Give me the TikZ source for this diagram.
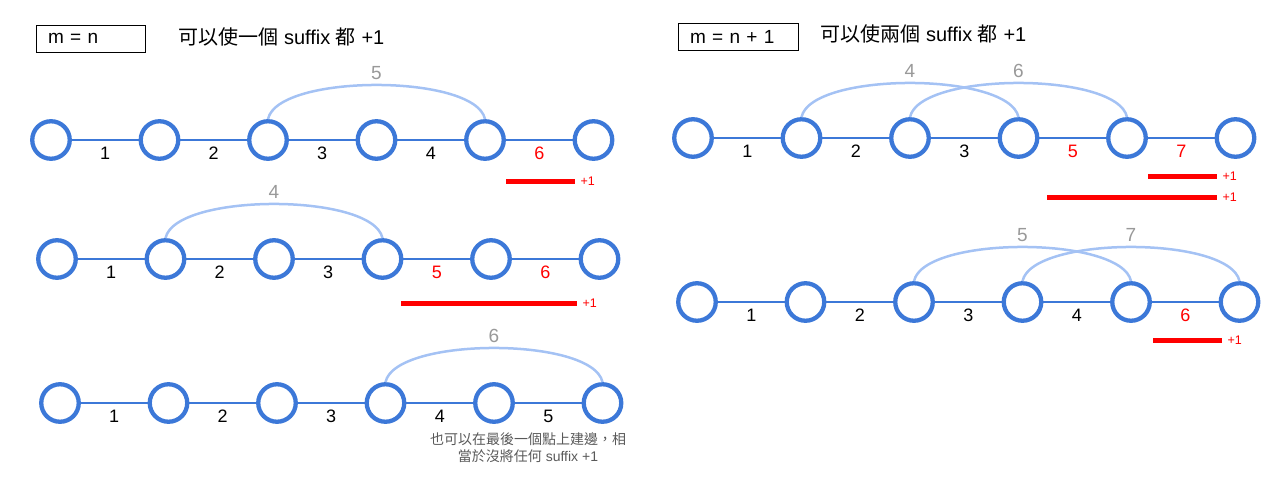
\documentclass[tikz,border=0pt]{standalone}
\usepackage{fontspec}
\setmainfont{Liberation Sans}
\newfontfamily\cjk{Noto Sans CJK TC}
\definecolor{nodeblue}{HTML}{3C78D8}
\definecolor{arcblue}{HTML}{A4C2F4}
\definecolor{labelgray}{HTML}{999999}
\definecolor{notegray}{HTML}{595959}

\begin{document}
\begin{tikzpicture}[x=1pt,y=-1pt,node distance=108.5pt,
  font=\fontsize{18}{21}\selectfont,
  main node/.style={circle,draw=nodeblue,line width=4.3pt,minimum size=37.5pt,inner sep=0pt},
  lbl/.style={below=2pt,text=black},
  hot/.style={below=2pt,text=red},
  arc/.style={arcblue,line width=2.5pt,out=78,in=102,looseness=0.55},
  arclbl/.style={above=1pt,text=labelgray,font=\fontsize{19}{21}\selectfont},
  bar/.style={red,line width=5pt},
  plus/.style={right,inner sep=3pt,text=red,font=\fontsize{12.5}{14}\selectfont},
  titlebox/.style={draw,line width=1pt,minimum height=27pt,inner xsep=12pt,align=left,
    font=\fontsize{19}{21}\selectfont}]
\useasboundingbox (0,0) rectangle (1268,488);

% titles
  \node[titlebox,text width=85pt] (t1) at (90.5,38.5) {m = n};
  \node[anchor=west,font=\fontsize{20}{22}\selectfont] (s1) at (175,37)
    {{\cjk 可以使一個} suffix {\cjk 都} +1};
  \node[titlebox,text width=96pt] (t2) at (738,37) {m = n + 1};
  \node[anchor=west,font=\fontsize{20}{22}\selectfont] (s2) at (817,34)
    {{\cjk 可以使兩個} suffix {\cjk 都} +1};

% first left row
  \node[main node] (a1) at (51,140) {};
  \node[main node] (a2) [right of=a1] {};
  \node[main node] (a3) [right of=a2] {};
  \node[main node] (a4) [right of=a3] {};
  \node[main node] (a5) [right of=a4] {};
  \node[main node] (a6) [right of=a5] {};

  \path[nodeblue,line width=2.7pt]
    (a1) edge node[lbl] {1} (a2)
    (a2) edge node[lbl] {2} (a3)
    (a3) edge node[lbl] {3} (a4)
    (a4) edge node[lbl] {4} (a5)
    (a5) edge node[hot] {6} (a6);
  \draw (a3.north) edge[arc] node[arclbl] {5} (a5.north);

  \coordinate (r1s) at (506,181);
  \coordinate (r1e) at (575,181);
  \draw[bar] (r1s) -- (r1e) node[plus] {+1};

% second left row
  \node[main node] (b1) at (57,259) {};
  \node[main node] (b2) [right of=b1] {};
  \node[main node] (b3) [right of=b2] {};
  \node[main node] (b4) [right of=b3] {};
  \node[main node] (b5) [right of=b4] {};
  \node[main node] (b6) [right of=b5] {};

  \path[nodeblue,line width=2.7pt]
    (b1) edge node[lbl] {1} (b2)
    (b2) edge node[lbl] {2} (b3)
    (b3) edge node[lbl] {3} (b4)
    (b4) edge node[hot] {5} (b5)
    (b5) edge node[hot] {6} (b6);
  \draw (b2.north) edge[arc] node[arclbl] {4} (b4.north);

  \coordinate (r2s) at (401,303);
  \coordinate (r2e) at (577,303);
  \draw[bar] (r2s) -- (r2e) node[plus] {+1};

% third left row
  \node[main node] (c1) at (60,403) {};
  \node[main node] (c2) [right of=c1] {};
  \node[main node] (c3) [right of=c2] {};
  \node[main node] (c4) [right of=c3] {};
  \node[main node] (c5) [right of=c4] {};
  \node[main node] (c6) [right of=c5] {};

  \path[nodeblue,line width=2.7pt]
    (c1) edge node[lbl] {1} (c2)
    (c2) edge node[lbl] {2} (c3)
    (c3) edge node[lbl] {3} (c4)
    (c4) edge node[lbl] {4} (c5)
    (c5) edge node[lbl] {5} (c6);
  \draw (c4.north) edge[arc] node[arclbl] {6} (c6.north);

  \node[text=notegray,align=center,font=\fontsize{14}{17}\selectfont] (note) at (528,448)
    {{\cjk 也可以在最後一個點上建邊，相}\\{\cjk 當於沒將任何} suffix +1};

% first right row
  \node[main node] (d1) at (693,138) {};
  \node[main node] (d2) [right of=d1] {};
  \node[main node] (d3) [right of=d2] {};
  \node[main node] (d4) [right of=d3] {};
  \node[main node] (d5) [right of=d4] {};
  \node[main node] (d6) [right of=d5] {};

  \path[nodeblue,line width=2.7pt]
    (d1) edge node[lbl] {1} (d2)
    (d2) edge node[lbl] {2} (d3)
    (d3) edge node[lbl] {3} (d4)
    (d4) edge node[hot] {5} (d5)
    (d5) edge node[hot] {7} (d6);
  \draw (d2.north) edge[arc] node[arclbl] {4} (d4.north);
  \draw (d3.north) edge[arc] node[arclbl] {6} (d5.north);

  \coordinate (r3s) at (1148,176);
  \coordinate (r3e) at (1217,176);
  \draw[bar] (r3s) -- (r3e) node[plus] {+1};
  \coordinate (r4s) at (1047,197);
  \coordinate (r4e) at (1217,197);
  \draw[bar] (r4s) -- (r4e) node[plus] {+1};

% second right row
  \node[main node] (e1) at (697,302) {};
  \node[main node] (e2) [right of=e1] {};
  \node[main node] (e3) [right of=e2] {};
  \node[main node] (e4) [right of=e3] {};
  \node[main node] (e5) [right of=e4] {};
  \node[main node] (e6) [right of=e5] {};

  \path[nodeblue,line width=2.7pt]
    (e1) edge node[lbl] {1} (e2)
    (e2) edge node[lbl] {2} (e3)
    (e3) edge node[lbl] {3} (e4)
    (e4) edge node[lbl] {4} (e5)
    (e5) edge node[hot] {6} (e6);
  \draw (e3.north) edge[arc] node[arclbl] {5} (e5.north);
  \draw (e4.north) edge[arc] node[arclbl] {7} (e6.north);

  \coordinate (r5s) at (1153,340);
  \coordinate (r5e) at (1222,340);
  \draw[bar] (r5s) -- (r5e) node[plus] {+1};

\end{tikzpicture}
\end{document}
